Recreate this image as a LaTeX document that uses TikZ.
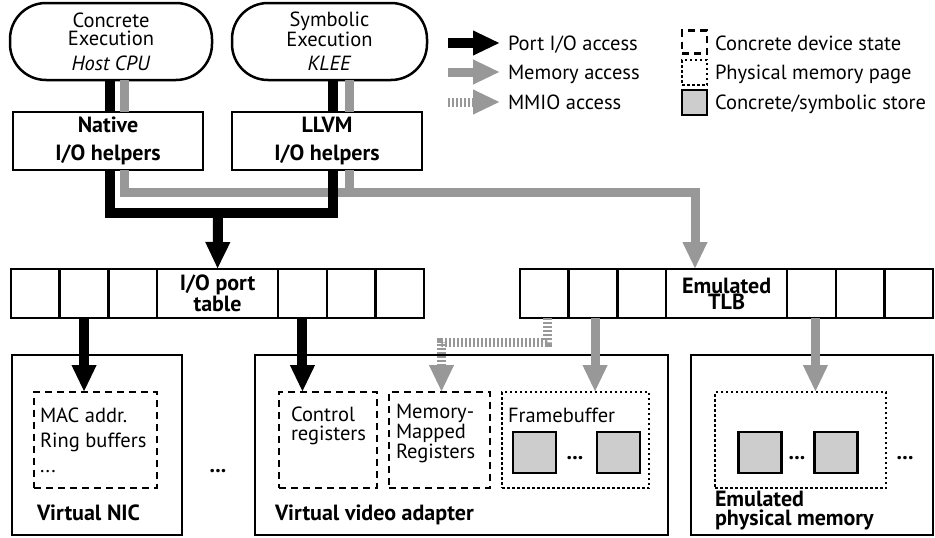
\documentclass[tikz,border=0pt]{standalone}
\usepackage{fontspec}
\setmainfont{PT Sans}
\usetikzlibrary{arrows.meta}

\definecolor{memgray}{RGB}{152,152,152}
\definecolor{storegray}{RGB}{205,205,205}
\newcommand{\figfont}[1]{\fontsize{20.5}{#1}\selectfont}
\newcommand{\boldfont}[1]{\fontsize{22}{#1}\selectfont\bfseries}

\begin{document}
\begin{tikzpicture}[x=1pt, y=-1pt,
  every node/.style={inner sep=0pt, outer sep=0pt},
  cloudbox/.style={draw, line width=2.5pt, rounded corners=36pt, minimum width=202pt, minimum height=77pt, align=center, font=\figfont{18.5}},
  helper/.style={draw, line width=2.5pt, minimum width=190pt, minimum height=58pt, align=center, font=\boldfont{28}},
  cell/.style={draw, line width=2.5pt, minimum width=48.7pt, minimum height=49pt},
  tablbl/.style={cell, minimum width=121pt, align=center, font=\boldfont{16}},
  device/.style={draw, line width=2.5pt, minimum height=180pt},
  devstate/.style={draw, line width=2.5pt, dash pattern=on 7pt off 5pt, minimum height=96pt},
  mempage/.style={draw, line width=2.5pt, dash pattern=on 2.5pt off 2.5pt, minimum height=96pt},
  store/.style={draw, line width=2.5pt, fill=storegray, minimum width=43pt, minimum height=41pt},
  txt/.style={align=left, font=\figfont{#1}},
  txt/.default=18.5,
  title/.style={align=left, font=\boldfont{#1}},
  title/.default=19,
  dots/.style={font=\boldfont{18}},
  port/.style={line width=10pt, black},
  portarrow/.style={port, -{Triangle[width=23pt,length=27pt]}},
  mem/.style={line width=9pt, memgray},
  memarrow/.style={mem, -{Triangle[width=23pt,length=27pt]}},
  mmio/.style={mem, dash pattern=on 2pt off 2pt, -{Triangle[width=23pt,length=27pt]}}]

\useasboundingbox (0,0) rectangle (935,538);

% ----- Execution engines -----
\node[cloudbox] (conc) at (111,41.5) {Concrete\\Execution\\[6pt]\textit{Host CPU}};
\node[cloudbox, minimum width=195pt] (symb) at (329.5,41.5) {Symbolic\\Execution\\[6pt]\textit{KLEE}};

% ----- I/O helpers -----
\node[helper] (nat) at (108,141) {Native\\I/O helpers};
\node[helper] (llvm) at (327,141) {LLVM\\I/O helpers};

% ----- I/O port table -----
\foreach \i in {1,2,3}
  \node[cell] (io-\i) at ({11+48.7*(\i-0.5)},293.5) {};
\node[tablbl] (iolbl) at (217.6,293.5) {I/O port\\table};
\foreach \i in {4,5,6}
  \node[cell] (io-\i) at ({278.1+48.7*(\i-3.5)},293.5) {};

% ----- Emulated TLB -----
\foreach \i in {1,2,3}
  \node[cell] (tlb-\i) at ({520+48.7*(\i-0.5)},293.5) {};
\node[tablbl] (tlblbl) at (726.6,293.5) {Emulated\\TLB};
\foreach \i in {4,5,6}
  \node[cell] (tlb-\i) at ({787.1+48.7*(\i-3.5)},293.5) {};

% ----- Devices -----
\node[device, minimum width=170pt] (nic) at (97,445) {};
\node[device, minimum width=413pt] (vga) at (461.5,445) {};
\node[device, minimum width=242pt] (pmem) at (812,445) {};

\node[devstate, minimum width=123pt] (nicst) at (95.5,440) {};
\node[devstate, minimum width=98pt] (ctrl) at (328,440) {};
\node[devstate, minimum width=101pt] (mmr) at (439.5,440) {};
\node[mempage, minimum width=147pt] (fb) at (575.5,440) {};
\node[mempage, minimum width=171pt] (page) at (800.5,440) {};

\node[store] (fb-a) at (534.5,452.5) {};
\node[store] (fb-b) at (618.5,452.5) {};
\node[store] (pg-a) at (760,452.5) {};
\node[store] (pg-b) at (836,452.5) {};

% ----- Device texts -----
\node[txt=25, anchor=base west] (nictxt) at (40,472) {MAC addr.\\Ring buffers\\...};
\node[txt, anchor=base west] (ctrltxt) at (291,440) {Control\\registers};
\node[txt, anchor=base west] (mmrtxt) at (396,458) {Memory-\\Mapped\\Registers};
\node[txt, anchor=base west] (fbtxt) at (508,422) {Framebuffer};

\node[dots, anchor=base] (gapdots) at (218,472) {...};
\node[dots, anchor=base] (fbdots) at (575,459) {...};
\node[dots, anchor=base] (pgdots) at (797,459) {...};
\node[dots, anchor=base] (moredots) at (905,459) {...};

\node[title, anchor=base west] (nicname) at (37,520) {Virtual NIC};
\node[title, anchor=base west] (vganame) at (275,520) {Virtual video adapter};
\node[title, anchor=base west] (pmemname) at (715,525) {Emulated\\physical memory};

% ----- Memory access -----
\coordinate (memjoin) at (695,192);
\draw[mem] ([xshift=16pt]nat.north |- conc.south) -- ([xshift=16pt]nat.north);
\draw[mem] ([xshift=22pt]llvm.north |- symb.south) -- ([xshift=22pt]llvm.north);
\draw[memarrow] ([xshift=16pt]nat.south) |- (memjoin) -- (memjoin |- tlblbl.north);
\draw[mem] ([xshift=22pt]llvm.south) -- ([xshift=22pt]llvm.south |- memjoin);
\draw[memarrow] ([xshift=2pt]tlb-2.south) -- ([xshift=2pt]tlb-2.south |- fb.north);
\draw[memarrow] ([xshift=4pt]tlb-4.south) -- ([xshift=4pt]tlb-4.south |- page.north);
\draw[mmio] ([xshift=3pt]tlb-1.south) |- ([xshift=2pt]mmr.north |- 0,342) -- ([xshift=2pt]mmr.north);

% ----- Port I/O access -----
\coordinate (portjoin) at (218,213);
\draw[port] ([xshift=2pt]nat.north |- conc.south) -- ([xshift=2pt]nat.north);
\draw[port] ([xshift=6pt]llvm.north |- symb.south) -- ([xshift=6pt]llvm.north);
\draw[port] ([xshift=2pt]nat.south) |- (portjoin) -| ([xshift=6pt]llvm.south);
\draw[portarrow] (portjoin) -- (iolbl.north);
\draw[portarrow] (io-2.south) -- (io-2.south |- nicst.north);
\draw[portarrow] (io-4.south) -- (io-4.south |- ctrl.north);

% ----- Legend -----
\node[txt, anchor=base west] (lg-port) at (508,50) {Port I/O access};
\node[txt, anchor=base west] (lg-mem) at (508,79) {Memory access};
\node[txt, anchor=base west] (lg-mmio) at (508,109) {MMIO access};
\draw[portarrow] ([shift={(-60,-7)}]lg-port.base west) -- ([shift={(-8,-7)}]lg-port.base west);
\draw[memarrow] ([shift={(-60,-7)}]lg-mem.base west) -- ([shift={(-8,-7)}]lg-mem.base west);
\draw[mmio] ([shift={(-60,-7)}]lg-mmio.base west) -- ([shift={(-8,-7)}]lg-mmio.base west);

\node[devstate, minimum width=25pt, minimum height=23pt] (lg-state) at (694.5,42) {};
\node[mempage, minimum width=25pt, minimum height=25pt] (lg-page) at (694.5,72.5) {};
\node[store, minimum width=25pt, minimum height=25pt] (lg-store) at (694.5,102.5) {};
\node[txt, anchor=base west] (lg-statetxt) at (715,50) {Concrete device state};
\node[txt, anchor=base west] (lg-pagetxt) at (715,79) {Physical memory page};
\node[txt, anchor=base west] (lg-storetxt) at (715,109) {Concrete/symbolic store};
\end{tikzpicture}
\end{document}
